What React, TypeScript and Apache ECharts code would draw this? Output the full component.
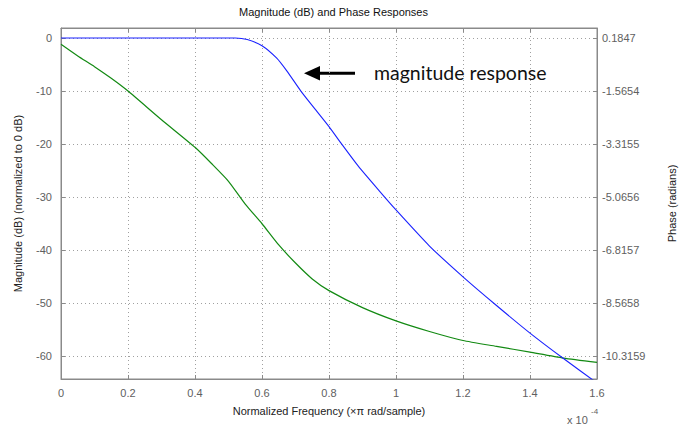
import React, { useEffect, useRef } from "react";
import * as echarts from "echarts";

// Normalized frequency (x 1e-4, ×π rad/sample)
const magFreq = [0, 0.2, 0.4, 0.52, 0.556, 0.6, 0.644, 0.674, 0.716, 0.761, 0.8, 0.838, 0.888, 0.95, 1.0, 1.1, 1.2, 1.3, 1.4, 1.5, 1.6];
// Magnitude (dB)
const magDb = [0, 0, 0, 0, -0.3, -1.45, -3.8, -6.2, -10, -13.6, -16.7, -20, -24.2, -28.8, -32.4, -39.2, -45.0, -50.4, -55.6, -60.4, -65.0];

const phaseFreq = [0, 0.05, 0.1, 0.15, 0.2, 0.3, 0.4, 0.45, 0.5, 0.55, 0.6, 0.65, 0.7, 0.75, 0.8, 0.9, 1.0, 1.1, 1.2, 1.3, 1.4, 1.5, 1.6];
// Phase (radians)
const phaseRad = [-0.0253, -0.4103, -0.7604, -1.1454, -1.5654, -2.5105, -3.4205, -3.9631, -4.5406, -5.2932, -5.9407, -6.6408, -7.2358, -7.7608, -8.1459, -8.7059, -9.1434, -9.4935, -9.791, -9.9835, -10.176, -10.3685, -10.5085];

const magTicks = [0, -10, -20, -30, -40, -50, -60];
const phaseTicks = [0.1847, -1.5654, -3.3155, -5.0656, -6.8157, -8.5658, -10.3159];
const xTicks = [0, 0.2, 0.4, 0.6, 0.8, 1.0, 1.2, 1.4, 1.6];

const FONT = "Liberation Sans, Arial, sans-serif";
const AXIS_COLOR = "#8a8a8a";
const LABEL_COLOR = "#606060";

export default function App() {
  const ref = useRef<HTMLDivElement>(null);
  useEffect(() => {
    document.body.style.margin = "0";
    if (!ref.current) return;
    const chart = echarts.init(ref.current, null, { renderer: "svg" });
    const gridLine = { show: true, lineStyle: { color: "#a0a0a0", type: [1, 3] as any, width: 1 } };
    chart.setOption({
      animation: false,
      backgroundColor: "#ffffff",
      textStyle: { fontFamily: FONT },
      grid: { left: 61, right: 79, top: 28, bottom: 50, show: true, borderColor: AXIS_COLOR, borderWidth: 1 },
      xAxis: [
        {
          type: "value", position: "bottom", min: 0, max: 1.6, interval: 0.2,
          axisLine: { onZero: false, lineStyle: { color: AXIS_COLOR } },
          axisTick: { inside: true, length: 4, lineStyle: { color: AXIS_COLOR } },
          axisLabel: { color: LABEL_COLOR, fontSize: 11, margin: 8, fontFamily: FONT,
            customValues: xTicks, formatter: (v: number) => String(Math.round(v * 10) / 10) },
          splitLine: gridLine,
          name: "Normalized Frequency (×π rad/sample)", nameLocation: "middle", nameGap: 26,
          nameTextStyle: { color: "#222", fontSize: 11, fontFamily: FONT },
        },
        {
          type: "value", position: "top", min: 0, max: 1.6, interval: 0.2,
          axisLine: { onZero: false, lineStyle: { color: AXIS_COLOR } },
          axisTick: { inside: true, length: 4, lineStyle: { color: AXIS_COLOR } },
          axisLabel: { show: false }, splitLine: { show: false },
        },
      ],
      yAxis: [
        {
          type: "value", position: "left", min: -64.25, max: 1.88,
          axisLine: { show: true, onZero: false, lineStyle: { color: AXIS_COLOR } },
          axisTick: { show: true, inside: true, length: 4, customValues: magTicks, lineStyle: { color: AXIS_COLOR } },
          axisLabel: { color: LABEL_COLOR, fontSize: 11, margin: 9, fontFamily: FONT, customValues: magTicks },
          splitLine: gridLine,
          name: "Magnitude (dB) (normalized to 0 dB)", nameLocation: "middle", nameGap: 38, nameRotate: 90,
          nameTextStyle: { color: "#222", fontSize: 11, fontFamily: FONT },
        },
        {
          type: "value", position: "right", min: -11.0598, max: 0.5137,
          axisLine: { show: true, onZero: false, lineStyle: { color: AXIS_COLOR } },
          axisTick: { show: true, inside: true, length: 4, customValues: phaseTicks, lineStyle: { color: AXIS_COLOR } },
          axisLabel: { color: LABEL_COLOR, fontSize: 11, margin: 5, fontFamily: FONT, customValues: phaseTicks,
            formatter: (v: number) => v.toFixed(4) },
          splitLine: { show: false },
          name: "Phase (radians)", nameLocation: "middle", nameGap: 69, nameRotate: 90,
          nameTextStyle: { color: "#222", fontSize: 11, fontFamily: FONT },
        },
      ],
      series: [
        {
          type: "line", xAxisIndex: 0, yAxisIndex: 1, showSymbol: false, smooth: 0.2,
          lineStyle: { color: "#138a13", width: 1.2 },
          data: phaseFreq.map((f, i) => [f, phaseRad[i]]),
          clip: true,
        },
        {
          type: "line", xAxisIndex: 0, yAxisIndex: 0, showSymbol: false, smooth: 0.2,
          lineStyle: { color: "#1a22ff", width: 1.1 },
          data: magFreq.map((f, i) => [f, magDb[i]]),
          clip: true,
        },
      ],
      graphic: [
        { type: "text", x: 333.5, y: 12, style: { text: "Magnitude (dB) and Phase Responses", fill: "#111", fontSize: 11, fontFamily: FONT, textAlign: "center", textVerticalAlign: "middle" } },
        { type: "text", x: 567, y: 420, style: { text: "x 10", fill: LABEL_COLOR, fontSize: 11, fontFamily: FONT, textAlign: "left", textVerticalAlign: "middle" } },
        { type: "text", x: 591, y: 411, style: { text: "-4", fill: LABEL_COLOR, fontSize: 8, fontFamily: FONT, textAlign: "left", textVerticalAlign: "middle" } },
        { type: "line", shape: { x1: 318, y1: 73.3, x2: 355, y2: 73.3 }, style: { stroke: "#000", lineWidth: 3 } },
        { type: "polygon", shape: { points: [[304, 73.3], [320, 66], [320, 80.6]] }, style: { fill: "#000" } },
        { type: "text", x: 374, y: 72, style: { text: "magnitude response", fill: "#111", fontSize: 19.5, fontFamily: "Lato, sans-serif", textAlign: "left", textVerticalAlign: "middle" } },
      ],
    });
    return () => chart.dispose();
  }, []);
  return <div ref={ref} style={{ width: 685, height: 429 }} />;
}
